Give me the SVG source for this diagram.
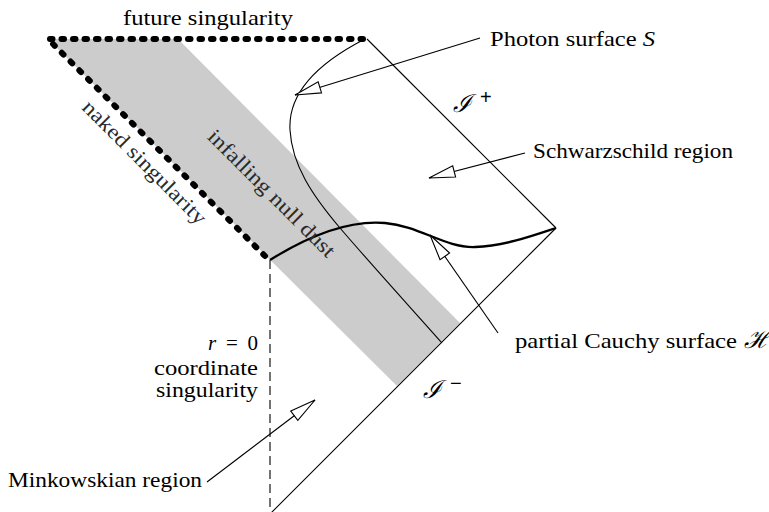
<svg xmlns="http://www.w3.org/2000/svg" width="769" height="512" viewBox="0 0 769 512">
<style>
.t{font-family:"Liberation Serif","DejaVu Serif","Noto Serif",serif;font-size:21px;fill:#000}
.rt{font-family:"Liberation Serif","DejaVu Serif","Noto Serif",serif;font-size:21px;fill:#2a2a2a}
.sc{font-family:"Liberation Serif","Times New Roman",serif;font-size:25px;font-style:italic;fill:#000}
.sup{font-family:"Liberation Sans","DejaVu Sans",sans-serif;font-size:20px;fill:#000}
.thin{fill:none;stroke:#000;stroke-width:1.1}
.thick{fill:none;stroke:#000;stroke-width:2.3}
.dots{fill:none;stroke:#000;stroke-width:6;stroke-linecap:round}
.arr{fill:none;stroke:#000;stroke-width:1.1;marker-end:url(#oa)}
</style>
<defs>
<marker id="oa" markerUnits="userSpaceOnUse" viewBox="-1 -8 29 16" markerWidth="29" markerHeight="16" refX="26" refY="0" orient="auto">
<path d="M0,-5.8 L26,0 L0,5.8 Z" fill="#fff" stroke="#000" stroke-width="1.1"/>
</marker>
</defs>
<rect width="769" height="512" fill="#fff"/>
<g id="dust-band">
<polygon points="48,39 178,39 460,323 397,386" fill="#cccccc"/>
</g>
<g id="boundaries">
<path id="scri-plus" class="thin" d="M367,39 L556,228"/>
<path id="scri-minus" class="thin" d="M556,228 L270,514"/>
<path id="r0" class="thin" d="M270,260 L270,512" stroke-dasharray="9 5"/>
<path id="photon-surface" class="thin" d="M363,40 C315,65 288,95 290,130 C292,165 312,195 340,228 C370,263 410,307 442,343"/>
<path id="cauchy" class="thick" d="M270,260 C310,235 350,220 385,223 C420,226 445,248 475,247 C505,246 535,235 556,228"/>
<path id="future-sing" class="dots" d="M50,39 L363,39" stroke-dasharray="2.5 9"/>
<path id="naked-sing" class="dots" d="M53,44 L265,256" stroke-dasharray="2.5 9.89"/>
</g>
<g id="connectors">
<path class="arr" d="M480,38 L295,95"/>
<path class="arr" d="M525,153 L429,178"/>
<path class="arr" d="M498,333 L430,235"/>
<path class="arr" d="M207,482 L315,400"/>
</g>
<g id="labels">
<text class="t" x="123" y="25" textLength="170" lengthAdjust="spacingAndGlyphs">future singularity</text>
<text class="t" x="490" y="46" textLength="165" lengthAdjust="spacingAndGlyphs">Photon surface <tspan font-style="italic">S</tspan></text>
<text class="sc" x="453" y="112">ℐ</text>
<text class="sup" x="480" y="104">+</text>
<text class="t" x="533" y="158" textLength="200" lengthAdjust="spacingAndGlyphs">Schwarzschild region</text>
<text class="t" x="515" y="348" textLength="222" lengthAdjust="spacingAndGlyphs">partial Cauchy surface</text>
<text class="sc" x="744" y="348">ℋ</text>
<text class="sc" x="423" y="398">ℐ</text>
<text class="sup" x="450" y="390">−</text>
<text class="t" x="258" y="350" text-anchor="end" textLength="50" lengthAdjust="spacing"><tspan font-style="italic">r</tspan> = 0</text>
<text class="t" x="258" y="375" text-anchor="end" textLength="104" lengthAdjust="spacingAndGlyphs">coordinate</text>
<text class="t" x="258" y="397" text-anchor="end" textLength="102" lengthAdjust="spacingAndGlyphs">singularity</text>
<text class="t" x="8" y="487" textLength="194" lengthAdjust="spacingAndGlyphs">Minkowskian region</text>
<text class="rt" transform="translate(144,163) rotate(45)" x="0" y="6" text-anchor="middle" textLength="166" lengthAdjust="spacingAndGlyphs">naked singularity</text>
<text class="rt" transform="translate(271,194) rotate(45)" x="0" y="6" text-anchor="middle" textLength="171" lengthAdjust="spacingAndGlyphs">infalling null dust</text>
</g>
</svg>
